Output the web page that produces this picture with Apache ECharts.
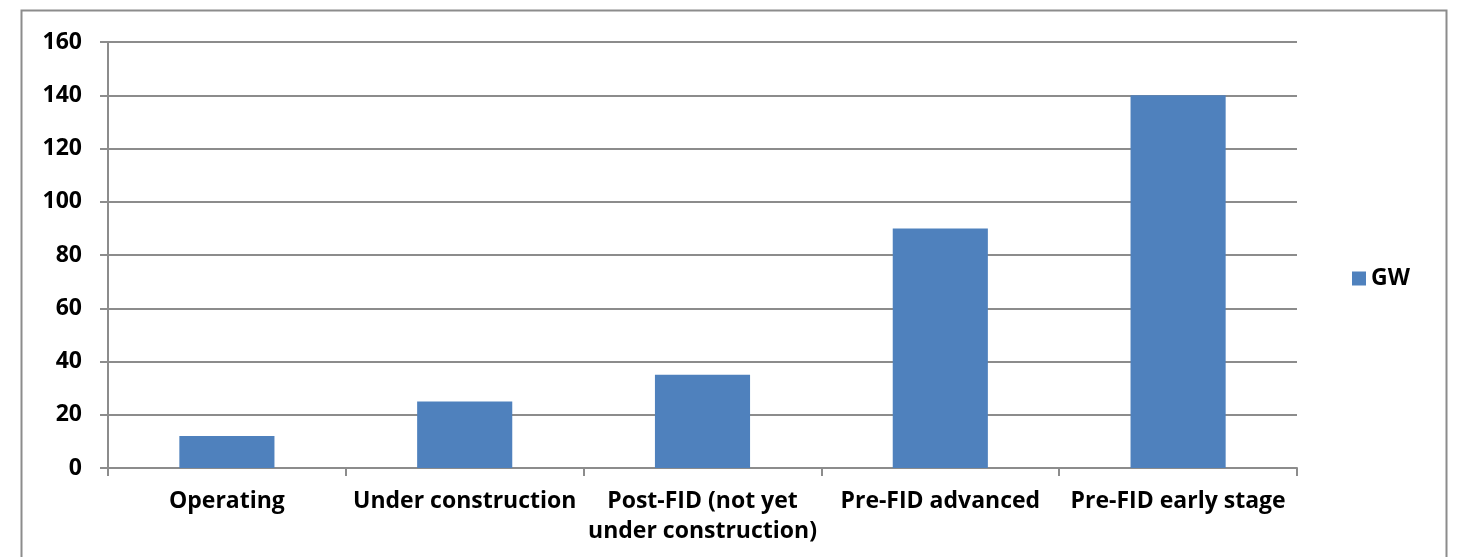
<!DOCTYPE html>
<html><head><meta charset="utf-8">
<script src="https://cdn.jsdelivr.net/npm/echarts@6/dist/echarts.min.js"></script>
<style>html,body{margin:0;padding:0;background:#fff}#c{width:1457px;height:557px}</style>
</head><body><div id="c"></div>
<script>
const categories = ['Operating', 'Under construction', 'Post-FID (not yet\nunder construction)', 'Pre-FID advanced', 'Pre-FID early stage'];
const gwValues = [12, 25, 35, 90, 140];
const yTicks = [0, 20, 40, 60, 80, 100, 120, 140, 160];
const seriesName = 'GW';

const font = '"Open Sans", sans-serif';
const chart = echarts.init(document.getElementById('c'), null, {renderer: 'canvas'});
chart.setOption({
  animation: false,
  backgroundColor: '#fff',
  graphic: [{
    type: 'rect', left: 19, top: 8, silent: true,
    shape: {width: 1425, height: 600},
    style: {fill: 'none', stroke: '#8c8c8c', lineWidth: 2}
  }],
  grid: {left: 108, right: 160, top: 42, bottom: 89, containLabel: false},
  legend: {
    data: [seriesName], left: 1347, top: 'middle', orient: 'vertical',
    itemWidth: 14, itemHeight: 14, itemGap: 6,
    icon: 'rect',
    textStyle: {fontFamily: font, fontWeight: 'bold', fontSize: 23, color: '#000'}
  },
  xAxis: {
    type: 'category', data: categories,
    axisLine: {lineStyle: {color: '#8c8c8c', width: 2}},
    axisTick: {show: true, length: 8, alignWithLabel: false, lineStyle: {color: '#8c8c8c', width: 2}},
    axisLabel: {interval: 0, margin: 18, fontFamily: font, fontWeight: 'bold', fontSize: 23, color: '#000', lineHeight: 30}
  },
  yAxis: {
    type: 'value', min: 0, max: 160, interval: 20,
    axisLine: {show: true, lineStyle: {color: '#8c8c8c', width: 2}},
    axisTick: {show: true, length: 8, lineStyle: {color: '#8c8c8c', width: 2}},
    splitLine: {lineStyle: {color: '#8c8c8c', width: 2}},
    axisLabel: {margin: 26, fontFamily: font, fontWeight: 'bold', fontSize: 23, color: '#000',
      formatter: v => yTicks.includes(v) ? String(v) : ''}
  },
  series: [{
    name: seriesName, type: 'bar', data: gwValues, barWidth: '40%',
    itemStyle: {color: '#4F81BD'}
  }]
});
</script></body></html>
